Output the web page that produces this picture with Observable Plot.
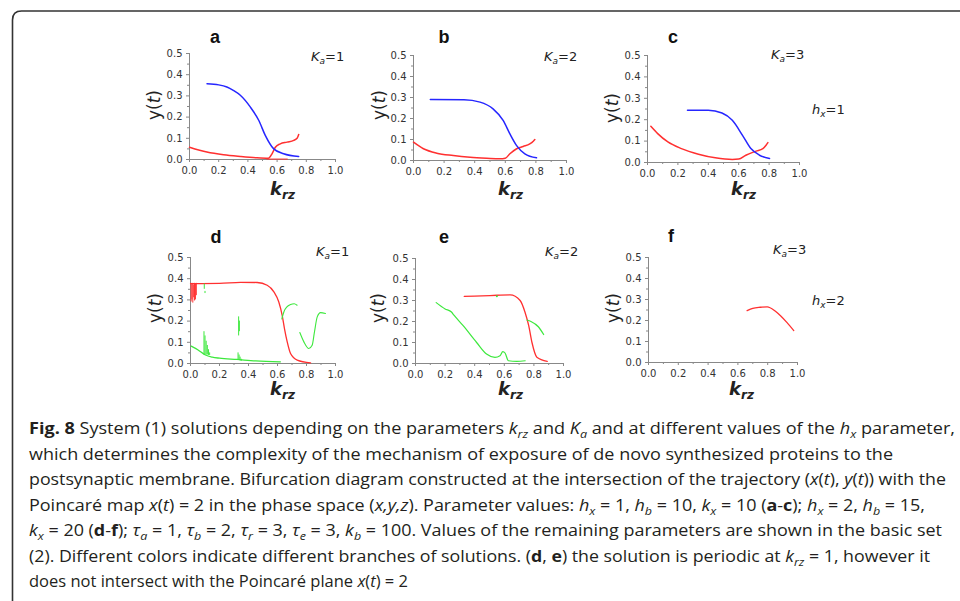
<!DOCTYPE html>
<html><head><meta charset="utf-8">
<script src="https://cdn.jsdelivr.net/npm/d3@7"></script>
<script src="https://cdn.jsdelivr.net/npm/@observablehq/plot@0.6"></script>
<style>
html,body{margin:0;padding:0;background:#fff;}
#root{position:relative;width:960px;height:601px;overflow:hidden;background:#fff;}
.panel{position:absolute;}
#overlay{position:absolute;left:0;top:0;pointer-events:none;}
</style></head><body><div id="root"></div>
<script>
// ---------- axis ticks ----------
const xTicks = [0, 0.2, 0.4, 0.6, 0.8, 1.0];
const xMinorTicks = [0.1, 0.3, 0.5, 0.7, 0.9];
const yTicks = [0, 0.1, 0.2, 0.3, 0.4, 0.5];
const yMinorTicks = [0.05, 0.15, 0.25, 0.35, 0.45];

// ---------- panel labels ----------
const panelLetters = ["a", "b", "c", "d", "e", "f"];
const kaValues = [1, 2, 3, 1, 2, 3];
const hxValues = [1, 2];

// ---------- series (k_rz, y) ----------
const aBlue = [[0.12,0.357],[0.2,0.352],[0.256,0.342],[0.3,0.326],[0.348,0.303],[0.416,0.248],[0.474,0.185],[0.519,0.114],[0.577,0.05],[0.645,0.027],[0.748,0.014]];
const aRed = [[0,0.058],[0.119,0.035],[0.233,0.022],[0.348,0.014],[0.46,0.008],[0.54,0.006],[0.565,0.027],[0.588,0.058],[0.622,0.074],[0.668,0.082],[0.714,0.09],[0.737,0.1],[0.748,0.118]];
const aRedLow = [[0.53,0.002],[0.67,0.002]];

const bBlue = [[0.11,0.29],[0.33,0.289],[0.435,0.278],[0.52,0.246],[0.587,0.19],[0.63,0.127],[0.674,0.071],[0.728,0.032],[0.804,0.013]];
const bRed = [[0,0.087],[0.065,0.056],[0.152,0.035],[0.26,0.024],[0.37,0.016],[0.478,0.011],[0.565,0.008],[0.6,0.011],[0.63,0.032],[0.674,0.056],[0.717,0.067],[0.76,0.079],[0.783,0.092],[0.793,0.1]];

const cBlue = [[0.263,0.244],[0.4,0.244],[0.49,0.231],[0.558,0.197],[0.625,0.127],[0.68,0.065],[0.737,0.034],[0.803,0.019]];
const cRed = [[0.022,0.169],[0.067,0.135],[0.134,0.096],[0.223,0.065],[0.335,0.039],[0.446,0.022],[0.558,0.014],[0.6,0.016],[0.647,0.034],[0.714,0.053],[0.759,0.065],[0.78,0.081],[0.792,0.093]];

const dRed = [[0,0.377],[0.2,0.378],[0.345,0.383],[0.46,0.382],[0.529,0.369],[0.575,0.338],[0.609,0.29],[0.632,0.228],[0.648,0.165],[0.667,0.102],[0.69,0.047],[0.736,0.016],[0.828,0.003]];
const dRedCluster = [[0.004,0.29,0.378],[0.01,0.30,0.372],[0.016,0.285,0.378],[0.022,0.31,0.37],[0.028,0.295,0.378],[0.034,0.30,0.375],[0.04,0.32,0.378]];
const dGreenLow = [[0.005,0.082],[0.05,0.065],[0.103,0.04],[0.15,0.03],[0.2,0.025],[0.32,0.019],[0.45,0.012],[0.62,0.008]];
const dGreenSpikes = [[0.093,0.04,0.15],[0.1,0.04,0.13],[0.108,0.04,0.105],[0.116,0.04,0.085],[0.124,0.038,0.065],[0.132,0.038,0.05],[0.095,0.35,0.375],[0.1,0.33,0.34],[0.332,0.13,0.22],[0.337,0.15,0.2],[0.328,0.015,0.05],[0.335,0.015,0.04],[0.342,0.012,0.03],[0.35,0.01,0.02]];
const dGreenArc1 = [[0.63,0.21],[0.645,0.245],[0.665,0.267],[0.69,0.278],[0.715,0.282],[0.735,0.275]];
const dGreenArc2 = [[0.754,0.146],[0.782,0.102],[0.816,0.071],[0.839,0.086],[0.855,0.149],[0.874,0.22],[0.897,0.24],[0.931,0.236]];

const eRed = [[0.329,0.32],[0.45,0.322],[0.55,0.325],[0.64,0.327],[0.707,0.3],[0.74,0.244],[0.765,0.18],[0.787,0.1],[0.82,0.03],[0.89,0.01]];
const eGreen = [[0.14,0.29],[0.2,0.26],[0.243,0.245],[0.26,0.23],[0.322,0.18],[0.413,0.1],[0.48,0.045],[0.537,0.029],[0.571,0.037],[0.59,0.057],[0.605,0.05],[0.628,0.013],[0.685,0.01],[0.741,0.013]];
const eGreenDot = [[0.55,0.32]];
const eGreenRight = [[0.753,0.207],[0.78,0.2],[0.83,0.175],[0.866,0.138]];

const fRed = [[0.662,0.247],[0.7,0.258],[0.75,0.263],[0.797,0.265],[0.85,0.245],[0.886,0.223],[0.93,0.19],[0.975,0.152]];

// ---------- styles / layout ----------
const BLUE = "#2626ff", RED = "#ff3030", GREEN = "#3de83d";
const layout = [
  {x0:189, x1:335, yt:53, yb:159},
  {x0:413, x1:566, yt:55, yb:160},
  {x0:647, x1:799, yt:55, yb:162},
  {x0:190, x1:335, yt:257, yb:363},
  {x0:415, x1:563, yt:258, yb:363},
  {x0:648, x1:797, yt:257, yb:362}
];
const X = d => d[0], Y = d => d[1];
const line = (data, stroke, w = 1.5) => Plot.line(data, {x: X, y: Y, stroke, strokeWidth: w, curve: "monotone-x"});
const seg = (data, stroke) => Plot.ruleX(data, {x: d => d[0], y1: d => d[1], y2: d => d[2], stroke, strokeWidth: 1});

const seriesMarks = [
  [line(aRed, RED), line(aRedLow, RED, 1), line(aBlue, BLUE)],
  [line(bRed, RED), line(bBlue, BLUE)],
  [line(cRed, RED), line(cBlue, BLUE)],
  [seg(dRedCluster, RED), line(dRed, RED, 1.3), line(dGreenLow, GREEN, 1.3), seg(dGreenSpikes, GREEN),
   line(dGreenArc1, GREEN, 1.1), line(dGreenArc2, GREEN, 1.1)],
  [line(eRed, RED, 1.3), line(eGreen, GREEN, 1.2), line(eGreenRight, GREEN, 1.2),
   Plot.dot(eGreenDot, {x: X, y: Y, r: 1, fill: GREEN})],
  [line(fRed, RED, 1.3)]
];

const root = document.getElementById("root");
const ML = 40, MR = 12, MT = 8, MB = 26;
layout.forEach((L, i) => {
  const W = L.x1 - L.x0, H = L.yb - L.yt;
  const chart = Plot.plot({
    width: ML + W + MR, height: MT + H + MB,
    marginLeft: ML, marginRight: MR, marginTop: MT, marginBottom: MB,
    x: {domain: [0, 1], label: null},
    y: {domain: [0, 0.5], label: null},
    style: {background: "transparent", overflow: "visible", fontFamily: "DejaVu Sans", fontSize: "10px", color: "#333"},
    marks: [
      Plot.axisX(xMinorTicks, {tickSize: 2, tickFormat: () => "", stroke: "#888"}),
      Plot.axisX(xTicks, {tickSize: 3, tickPadding: 4, tickFormat: d3.format(".1f"), stroke: "#888", fill: "#333"}),
      Plot.axisY(yMinorTicks, {tickSize: 2, tickFormat: () => "", stroke: "#888"}),
      Plot.axisY(yTicks, {tickSize: 3, tickPadding: 4, tickFormat: d3.format(".1f"), stroke: "#888", fill: "#333"}),
      Plot.ruleX([0], {stroke: "#888", strokeWidth: 1}),
      Plot.ruleY([0], {stroke: "#888", strokeWidth: 1}),
      ...seriesMarks[i]
    ]
  });
  const div = document.createElement("div");
  div.className = "panel";
  div.style.left = (L.x0 - ML) + "px";
  div.style.top = (L.yt - MT) + "px";
  div.appendChild(chart);
  root.appendChild(div);
});

// ---------- overlay: border, annotations, caption ----------
const svg = d3.select(root).append("svg").attr("id", "overlay").attr("width", 960).attr("height", 601);
svg.append("path").attr("d", "M12.5,601 L12.5,20 Q12.5,11 21.5,11 L960,11")
  .attr("fill", "none").attr("stroke", "#333").attr("stroke-width", 1.6);

const letterPos = [[215,43],[444,43],[673,43],[216,243],[444,243],[671,242]];
const kaPos = [[311,61],[544,61],[771,59],[316,256],[545,256],[773,254]];
const ytPos = [[160,105],[385,105],[618,108],[161,308],[384,308],[619,308]];
const krzPos = [[270,195],[498,195],[731,195],[270,395],[498,395],[729,395]];
const hxPos = [[812,114],[812,305]];

panelLetters.forEach((t, i) => {
  svg.append("text").attr("x", letterPos[i][0]).attr("y", letterPos[i][1]).attr("text-anchor", "middle")
    .attr("font-family", "Liberation Sans, Arial").attr("font-weight", "bold").attr("font-size", 18).attr("fill", "#111").text(t);
  const k = svg.append("text").attr("x", kaPos[i][0]).attr("y", kaPos[i][1])
    .attr("font-family", "DejaVu Sans").attr("font-size", 13).attr("fill", "#222");
  k.append("tspan").attr("font-style", "italic").text("K");
  k.append("tspan").attr("font-style", "italic").attr("font-size", 9).attr("dy", 3).text("a");
  k.append("tspan").attr("dy", -3).text("=" + kaValues[i]);
  const y = svg.append("text").attr("transform", `translate(${ytPos[i][0]},${ytPos[i][1]}) rotate(-90)`)
    .attr("text-anchor", "middle").attr("font-family", "DejaVu Sans").attr("font-size", 17).attr("fill", "#222");
  y.append("tspan").text("y(");
  y.append("tspan").attr("font-style", "italic").text("t");
  y.append("tspan").text(")");
  const kr = svg.append("text").attr("x", krzPos[i][0]).attr("y", krzPos[i][1])
    .attr("font-family", "DejaVu Sans").attr("font-weight", "bold").attr("font-style", "italic").attr("font-size", 18).attr("fill", "#222");
  kr.append("tspan").text("k");
  kr.append("tspan").attr("font-size", 12).attr("dy", 4).text("rz");
});
hxValues.forEach((v, i) => {
  const h = svg.append("text").attr("x", hxPos[i][0]).attr("y", hxPos[i][1])
    .attr("font-family", "DejaVu Sans").attr("font-size", 13).attr("fill", "#222");
  h.append("tspan").attr("font-style", "italic").text("h");
  h.append("tspan").attr("font-style", "italic").attr("font-size", 9).attr("dy", 3).text("x");
  h.append("tspan").attr("dy", -3).text("=" + v);
});

// caption: segments [text, style]  style: "" normal, "b" bold, "i" italic, "s" italic subscript
const captionLines = [
  [["Fig. 8","b"],[" System (1) solutions depending on the parameters ",""],["k","i"],["rz","s"],[" and ",""],["K","i"],["a","s"],[" and at different values of the ",""],["h","i"],["x","s"],[" parameter,",""]],
  [["which determines the complexity of the mechanism of exposure of de novo synthesized proteins to the",""]],
  [["postsynaptic membrane. Bifurcation diagram constructed at the intersection of the trajectory (",""],["x","i"],["(",""],["t","i"],["), ",""],["y","i"],["(",""],["t","i"],[")) with the",""]],
  [["Poincaré map ",""],["x","i"],["(",""],["t","i"],[") = 2 in the phase space (",""],["x,y,z","i"],["). Parameter values: ",""],["h","i"],["x","s"],[" = 1, ",""],["h","i"],["b","s"],[" = 10, ",""],["k","i"],["x","s"],[" = 10 (",""],["a","b"],["-",""],["c","b"],["); ",""],["h","i"],["x","s"],[" = 2, ",""],["h","i"],["b","s"],[" = 15,",""]],
  [["k","i"],["x","s"],[" = 20 (",""],["d","b"],["-",""],["f","b"],["); ",""],["τ","i"],["a","s"],[" = 1, ",""],["τ","i"],["b","s"],[" = 2, ",""],["τ","i"],["r","s"],[" = 3, ",""],["τ","i"],["e","s"],[" = 3, ",""],["k","i"],["b","s"],[" = 100. Values of the remaining parameters are shown in the basic set",""]],
  [["(2). Different colors indicate different branches of solutions. (",""],["d","b"],[", ",""],["e","b"],[") the solution is periodic at ",""],["k","i"],["rz","s"],[" = 1, however it",""]],
  [["does not intersect with the Poincaré plane ",""],["x","i"],["(",""],["t","i"],[") = 2",""]]
];
const capBase = [434, 459.5, 485, 510.5, 536, 561.5, 587];
const capEnd = [955, 893, 946, 925, 942, 930, null];
captionLines.forEach((segs, i) => {
  const t = svg.append("text").attr("x", 29).attr("y", capBase[i])
    .attr("font-family", "Open Sans").attr("font-size", 16.5).attr("fill", "#231f20");
  if (capEnd[i]) t.attr("textLength", capEnd[i] - 29).attr("lengthAdjust", "spacingAndGlyphs");
  let down = 0;
  segs.forEach(([txt, st]) => {
    const sp = t.append("tspan").text(txt);
    if (st === "b") sp.attr("font-weight", "bold");
    if (st === "i" || st === "s") sp.attr("font-style", "italic");
    if (st === "s") { sp.attr("font-size", 11.5); if (!down) { sp.attr("dy", 4); down = 1; } }
    else if (down) { sp.attr("dy", -4); down = 0; }
  });
});
</script></body></html>
